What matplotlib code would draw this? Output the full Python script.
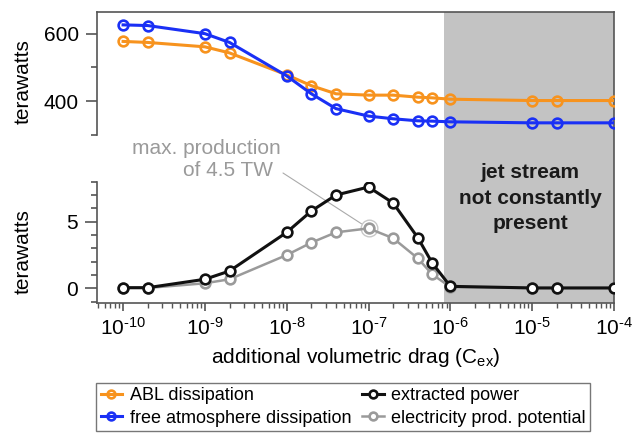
import matplotlib
matplotlib.use("Agg")
import matplotlib.pyplot as plt
from matplotlib.ticker import FixedLocator, LogLocator, NullFormatter, FixedFormatter

plt.rcParams['font.family'] = ['Liberation Sans', 'DejaVu Sans']
plt.rcParams['mathtext.fontset'] = 'custom'
plt.rcParams['mathtext.rm'] = 'Liberation Sans'
plt.rcParams['mathtext.it'] = 'Liberation Sans'

# ---- data ----
cex = [1e-10, 2e-10, 1e-9, 2e-9, 1e-8, 2e-8, 4e-8, 1e-7, 2e-7, 4e-7, 6e-7,
       1e-6, 1e-5, 2e-5, 1e-4]
abl_dissipation = [577, 574, 561, 543, 478, 446, 422, 418, 418, 412, 410,
                   406, 402, 402, 402]
free_dissipation = [626, 624, 600, 574, 475, 422, 378, 356, 348, 342, 341,
                    339, 336, 336, 336]
extracted_power = [0.05, 0.05, 0.68, 1.3, 4.2, 5.8, 7.0, 7.6, 6.4, 3.8, 1.9,
                   0.15, 0.03, 0.03, 0.03]
electricity = [0.03, 0.03, 0.38, 0.68, 2.5, 3.43, 4.2, 4.5, 3.76, 2.25, 1.05,
               0.1, 0.02, 0.02, 0.02]
max_x, max_y = 1e-7, 4.5
jet_start, jet_end = 8.3e-7, 1e-4
xtick_vals = [1e-10, 1e-9, 1e-8, 1e-7, 1e-6, 1e-5, 1e-4]
xtick_labels = [r'$10^{\text{-}10}$', r'$10^{\text{-}9}$', r'$10^{\text{-}8}$',
                r'$10^{\text{-}7}$', r'$10^{\text{-}6}$', r'$10^{\text{-}5}$',
                r'$10^{\text{-}4}$']

ORANGE = '#f7931e'
BLUE = '#1a30f5'
BLACK = '#111111'
GRAY = '#9a9a9a'
SPINE = '#555555'
XLIM = (4.8e-11, 1e-4)
FS = 15

fig = plt.figure(figsize=(6.39, 4.37), dpi=100)
H = 437.0

left, width = 97/639, 517/639
bot_b, bot_t = 1 - 303/H, 1 - 181.7/H
top_b, top_t = 1 - 135/H, 1 - 11.7/H

# background axes with shaded region
bg = fig.add_axes([left, bot_b, width, top_t - bot_b], zorder=0)
bg.set_xscale('log')
bg.set_xlim(*XLIM)
bg.axvspan(jet_start, jet_end, color='#c3c3c3', lw=0)
bg.set_xticks([]); bg.set_yticks([])
bg.minorticks_off()
for s in ['left', 'bottom']:
    bg.spines[s].set_visible(False)
for s in ['top', 'right']:
    bg.spines[s].set_color(SPINE)
    bg.spines[s].set_linewidth(1.2)
bg.patch.set_visible(False)

lw = 2.2
ms = 7
mew = 1.9

# top axes
ax1 = fig.add_axes([left, top_b, width, top_t - top_b], zorder=2)
ax1.patch.set_visible(False)
ax1.set_xscale('log')
ax1.set_xlim(*XLIM)
ax1.set_ylim(300, 665)
ax1.plot(cex, abl_dissipation, '-o', color=ORANGE, lw=lw, ms=ms, mew=mew,
         mfc='none', label='ABL dissipation', zorder=3)
ax1.plot(cex, free_dissipation, '-o', color=BLUE, lw=lw, ms=ms, mew=mew,
         mfc='none', label='free atmosphere dissipation', zorder=3)
ax1.set_xticks([]); ax1.minorticks_off()
ax1.yaxis.set_major_locator(FixedLocator([400, 600]))
ax1.yaxis.set_minor_locator(FixedLocator([300, 500]))
for s in ['top', 'right', 'bottom']:
    ax1.spines[s].set_visible(False)
ax1.spines['left'].set_color(SPINE)
ax1.spines['left'].set_linewidth(1.2)
ax1.tick_params(axis='y', which='major', length=8, width=1.2, color=SPINE,
                labelsize=FS, pad=5)
ax1.tick_params(axis='y', which='minor', length=4, width=1.2, color=SPINE)
ax1.set_ylabel('terawatts', fontsize=FS)
ax1.yaxis.set_label_coords((33 - 97) / 517, (135 - 82) / 123.3)

# bottom axes
ax2 = fig.add_axes([left, bot_b, width, bot_t - bot_b], zorder=2)
ax2.patch.set_visible(False)
ax2.set_xscale('log')
ax2.set_xlim(*XLIM)
ax2.set_ylim(-1.1, 8)
ax2.plot(cex, electricity, '-o', color=GRAY, lw=1.8, ms=ms, mew=mew,
         mfc='white', label='electricity prod. potential', zorder=3)
ax2.plot(cex, extracted_power, '-o', color=BLACK, lw=lw, ms=ms, mew=mew,
         mfc='white', label='extracted power', zorder=4)
ax2.plot([max_x], [max_y], 'o', ms=12, mfc='none', mec='#c8c8c8', mew=1.0,
         zorder=2)
ax2.yaxis.set_major_locator(FixedLocator([0, 5]))
ax2.yaxis.set_minor_locator(FixedLocator([-1, 1, 2, 3, 4, 6, 7, 8]))
ax2.xaxis.set_major_locator(FixedLocator(xtick_vals))
ax2.xaxis.set_major_formatter(FixedFormatter(xtick_labels))
ax2.xaxis.set_minor_locator(LogLocator(base=10, subs=range(2, 10), numticks=20))
ax2.xaxis.set_minor_formatter(NullFormatter())
for s in ['top', 'right']:
    ax2.spines[s].set_visible(False)
for s in ['left', 'bottom']:
    ax2.spines[s].set_color(SPINE)
    ax2.spines[s].set_linewidth(1.2)
ax2.tick_params(axis='y', which='major', length=9, width=1.2, color=SPINE,
                labelsize=FS, pad=5)
ax2.tick_params(axis='y', which='minor', length=4.5, width=1.2, color=SPINE)
ax2.tick_params(axis='x', which='major', length=6, width=1.2, color=SPINE,
                labelsize=FS, pad=4)
ax2.tick_params(axis='x', which='minor', length=3.5, width=1.0, color=SPINE)
ax2.set_ylabel('terawatts', fontsize=FS)
ax2.yaxis.set_label_coords((33 - 97) / 517, (303 - 252) / 121.3)
ax2.set_xlabel(r'additional volumetric drag (C$_{\mathrm{ex}}$)', fontsize=FS,
               labelpad=5)

# annotation
fig.text(206/639, 1 - 148/H, 'max. production', ha='center', va='center',
         fontsize=FS, color=GRAY)
fig.text(228/639, 1 - 171/H, 'of 4.5 TW', ha='center', va='center',
         fontsize=FS, color=GRAY)
ax2.annotate('', xy=(max_x, max_y), xytext=(283, H - 173),
             textcoords='figure pixels',
             arrowprops=dict(arrowstyle='-', color='#aaaaaa', lw=0.8,
                             shrinkA=0, shrinkB=6))
# jet stream text
fig.text(530/639, 1 - 198/H, 'jet stream\nnot constantly\npresent',
         ha='center', va='center', fontsize=FS, fontweight='bold',
         color='#1a1a1a', linespacing=1.45, zorder=5)

# legend
h1, l1 = ax1.get_legend_handles_labels()
h2, l2 = ax2.get_legend_handles_labels()
handles = [h1[0], h1[1], h2[1], h2[0]]
labels = [l1[0], l1[1], l2[1], l2[0]]
leg = fig.legend(handles, labels, ncol=2, loc='center',
                 bbox_to_anchor=(343/639, 1 - 407/H), fontsize=13,
                 frameon=True, fancybox=False, edgecolor=SPINE,
                 handlelength=1.2, handletextpad=0.4, columnspacing=0.6,
                 borderpad=0.25, labelspacing=0.3, markerscale=0.8)
leg.get_frame().set_linewidth(1.0)

fig.savefig('out.png', dpi=100)
